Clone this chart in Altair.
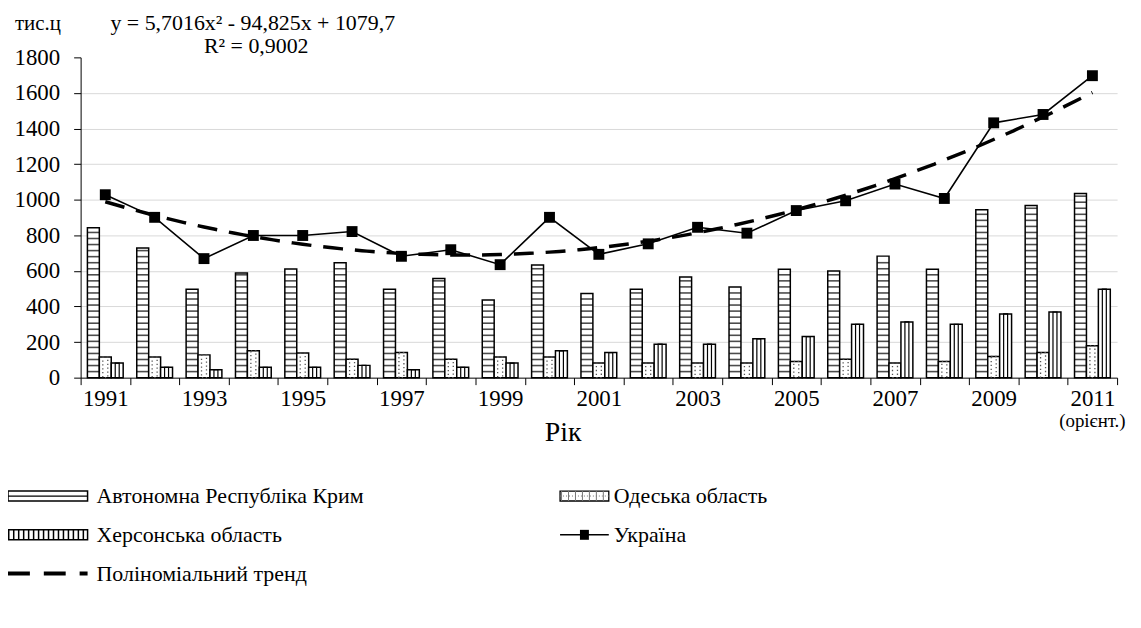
import altair as alt
import pandas as pd

# ---------------- data ----------------
years = [str(y) for y in range(1991, 2012)]
crimea = [842, 728, 497, 588, 611, 646, 497, 557, 437, 633, 473, 497, 566, 510, 609, 600, 683, 609, 944, 968, 1035]
odesa = [116, 116, 128, 151, 138, 104, 141, 104, 116, 116, 82, 82, 82, 82, 91, 104, 82, 91, 119, 141, 179]
kherson = [82, 58, 45, 58, 58, 69, 45, 58, 82, 151, 141, 188, 188, 218, 231, 300, 313, 300, 358, 369, 497]
ukraine = [1028, 901, 669, 799, 799, 821, 682, 719, 635, 901, 693, 752, 845, 812, 939, 994, 1088, 1007, 1432, 1479, 1697]
series_names = ["Автономна Республіка Крим", "Одеська область", "Херсонська область"]
y_ticks = [0, 200, 400, 600, 800, 1000, 1200, 1400, 1600, 1800]

bars_df = pd.DataFrame({
    "year": years * 3,
    "series": [series_names[0]] * len(years) + [series_names[1]] * len(years) + [series_names[2]] * len(years),
    "value": crimea + odesa + kherson,
})
ukr_df = pd.DataFrame({"year": years, "idx": list(range(1, len(years) + 1)), "value": ukraine})

W, H = 1042, 322
FONT = "Liberation Serif"
FS = 23

x_axis = alt.Axis(
    title=None, labelAngle=0, labelOverlap=False,
    labelExpr="toNumber(datum.value) % 2 == 1 ? datum.value : ''",
    tickBand="extent", tickSize=7, tickColor="black", domainColor="black",
    labelFont=FONT, labelFontSize=FS, labelColor="black", labelPadding=3, grid=False,
)
x_scale = alt.Scale(domain=years, paddingInner=0, paddingOuter=0)
xband = alt.X("year:O", scale=x_scale, axis=x_axis)
xband_noaxis = alt.X("year:O", scale=x_scale, axis=None)
xoff = alt.XOffset("series:N", scale=alt.Scale(domain=series_names, paddingOuter=0.57, paddingInner=0))

yenc = alt.Y(
    "value:Q",
    scale=alt.Scale(domain=[0, 1800], nice=False, zero=True),
    axis=alt.Axis(
        title=None, values=y_ticks, format="d", tickSize=7, tickColor="black", domainColor="black",
        labelFont=FONT, labelFontSize=FS, labelColor="black", labelPadding=14,
        gridColor="#d9d9d9",
        gridOpacity={"condition": {"test": "datum.value >= 1800 || datum.value <= 0", "value": 0}, "value": 1},
    ),
)

# ---------------- bars ----------------
bars = alt.Chart(bars_df).mark_bar(fill="white", stroke="black", strokeWidth=1.5).encode(
    x=xband, xOffset=xoff, y=yenc
)
crimea_stripes = (
    alt.Chart(bars_df)
    .transform_filter(alt.datum.series == series_names[0])
    .transform_calculate(value="sequence(34, datum.value - 5, 34)")
    .transform_flatten(["value"])
    .mark_tick(color="black", thickness=1.6, size=12, orient="horizontal")
    .encode(x=xband, xOffset=xoff, y=yenc)
)
odesa_inner = (
    alt.Chart(bars_df)
    .transform_filter(alt.datum.series == series_names[1])
    .mark_bar(width=5, fill="white", fillOpacity=0, stroke="#555555", strokeWidth=1.3, strokeDash=[1.3, 2.6])
    .encode(x=xband, xOffset=xoff, y=yenc)
)
kherson_inner = (
    alt.Chart(bars_df)
    .transform_filter(alt.datum.series == series_names[2])
    .mark_bar(width=4, fill="white", fillOpacity=0, stroke="black", strokeWidth=1.2)
    .encode(x=xband, xOffset=xoff, y=yenc)
)

# ---------------- Ukraine line ----------------
ukr_line = alt.Chart(ukr_df).mark_line(color="black", strokeWidth=1.6).encode(x=xband, y=yenc)
orient_label = (
    alt.Chart(ukr_df)
    .transform_filter(alt.datum.year == "2011")
    .mark_text(font=FONT, fontSize=19, color="black", baseline="middle")
    .encode(x=xband, y=alt.value(366), text=alt.value("(орієнт.)"))
)
main = alt.layer(bars, crimea_stripes, odesa_inner, kherson_inner, ukr_line, orient_label)

trend = (
    alt.Chart(ukr_df)
    .transform_regression("idx", "value", method="poly", order=2)
    .mark_line(color="black", strokeWidth=3.5, strokeDash=[20, 12])
    .encode(
        x=alt.X("idx:Q", scale=alt.Scale(domain=[0.5, len(years) + 0.5], nice=False, zero=False), axis=None),
        y=yenc,
    )
)
ukr_points = alt.Chart(ukr_df).mark_square(size=120, color="black", opacity=1).encode(x=xband_noaxis, y=yenc)


# ---------------- free texts ----------------
def txt(label, x, y, size=FS, align="left", baseline="middle"):
    return alt.Chart(pd.DataFrame({"t": [label]})).mark_text(
        font=FONT, fontSize=size, color="black", align=align, baseline=baseline
    ).encode(x=alt.value(x), y=alt.value(y), text="t:N")


def box(x1, x2, y1, y2, **kw):
    return alt.Chart(pd.DataFrame({"t": [0]})).mark_rect(**kw).encode(
        x=alt.value(x1), x2=alt.value(x2), y=alt.value(y1), y2=alt.value(y2)
    )


def rule(x1, x2, y, **kw):
    return alt.Chart(pd.DataFrame({"t": [0]})).mark_rule(**kw).encode(
        x=alt.value(x1), x2=alt.value(x2), y=alt.value(y)
    )


texts = [
    txt("тис.ц", -66, -28, 21, baseline="alphabetic"),
    txt("y = 5,7016x² - 94,825x + 1079,7", 30, -28, 22, baseline="alphabetic"),
    txt("R² = 0,9002", 124, -4, 22, baseline="alphabetic"),
    txt("Рік", 485, 378, 28, "center"),
]

# ---------------- legend ----------------
r1, r2, r3 = 441, 480, 519
LFS = 22
legend = [
    # Crimea
    box(-73, 7, r1 - 5, r1 + 5, fill="white", stroke="black", strokeWidth=1.5),
    rule(-73, 7, r1, color="black", strokeWidth=1.3),
    txt(series_names[0], 16, r1, LFS),
    # Odesa
    box(482, 531, r1 - 5, r1 + 5, fill="white", stroke="black", strokeWidth=1.3),
    rule(483, 530, r1, color="#777777", strokeWidth=10, strokeDash=[1, 6]),
    rule(482, 531, r1, color="#777777", strokeWidth=1, strokeDash=[1, 2]),
    txt(series_names[1], 536, r1, LFS),
    # Kherson
    rule(-73, 7, r2, color="black", strokeWidth=10, strokeDash=[1.5, 3.5]),
    box(-73, 7, r2 - 5, r2 + 5, fill="white", fillOpacity=0, stroke="black", strokeWidth=1.5),
    txt(series_names[2], 16, r2, LFS),
    # Ukraine
    rule(482, 531, r2, color="black", strokeWidth=1.6),
    box(502, 511, r2 - 5, r2 + 5, fill="black"),
    txt("Україна", 536, r2, LFS),
    # Trend
    rule(-73, 7, r3, color="black", strokeWidth=4, strokeDash=[22, 14]),
    txt("Поліноміальний тренд", 16, r3, LFS),
]

chart = (
    alt.layer(main, trend, ukr_points, *texts, *legend)
    .resolve_scale(x="independent")
    .properties(
        width=W, height=H,
        padding={"left": 73, "top": 48, "right": 16, "bottom": 240},
        autosize=alt.AutoSizeParams(type="none"),
        background="white",
    )
    .configure_view(stroke=None)
)

chart.save("out.html", embed_options={"renderer": "svg", "actions": False})
